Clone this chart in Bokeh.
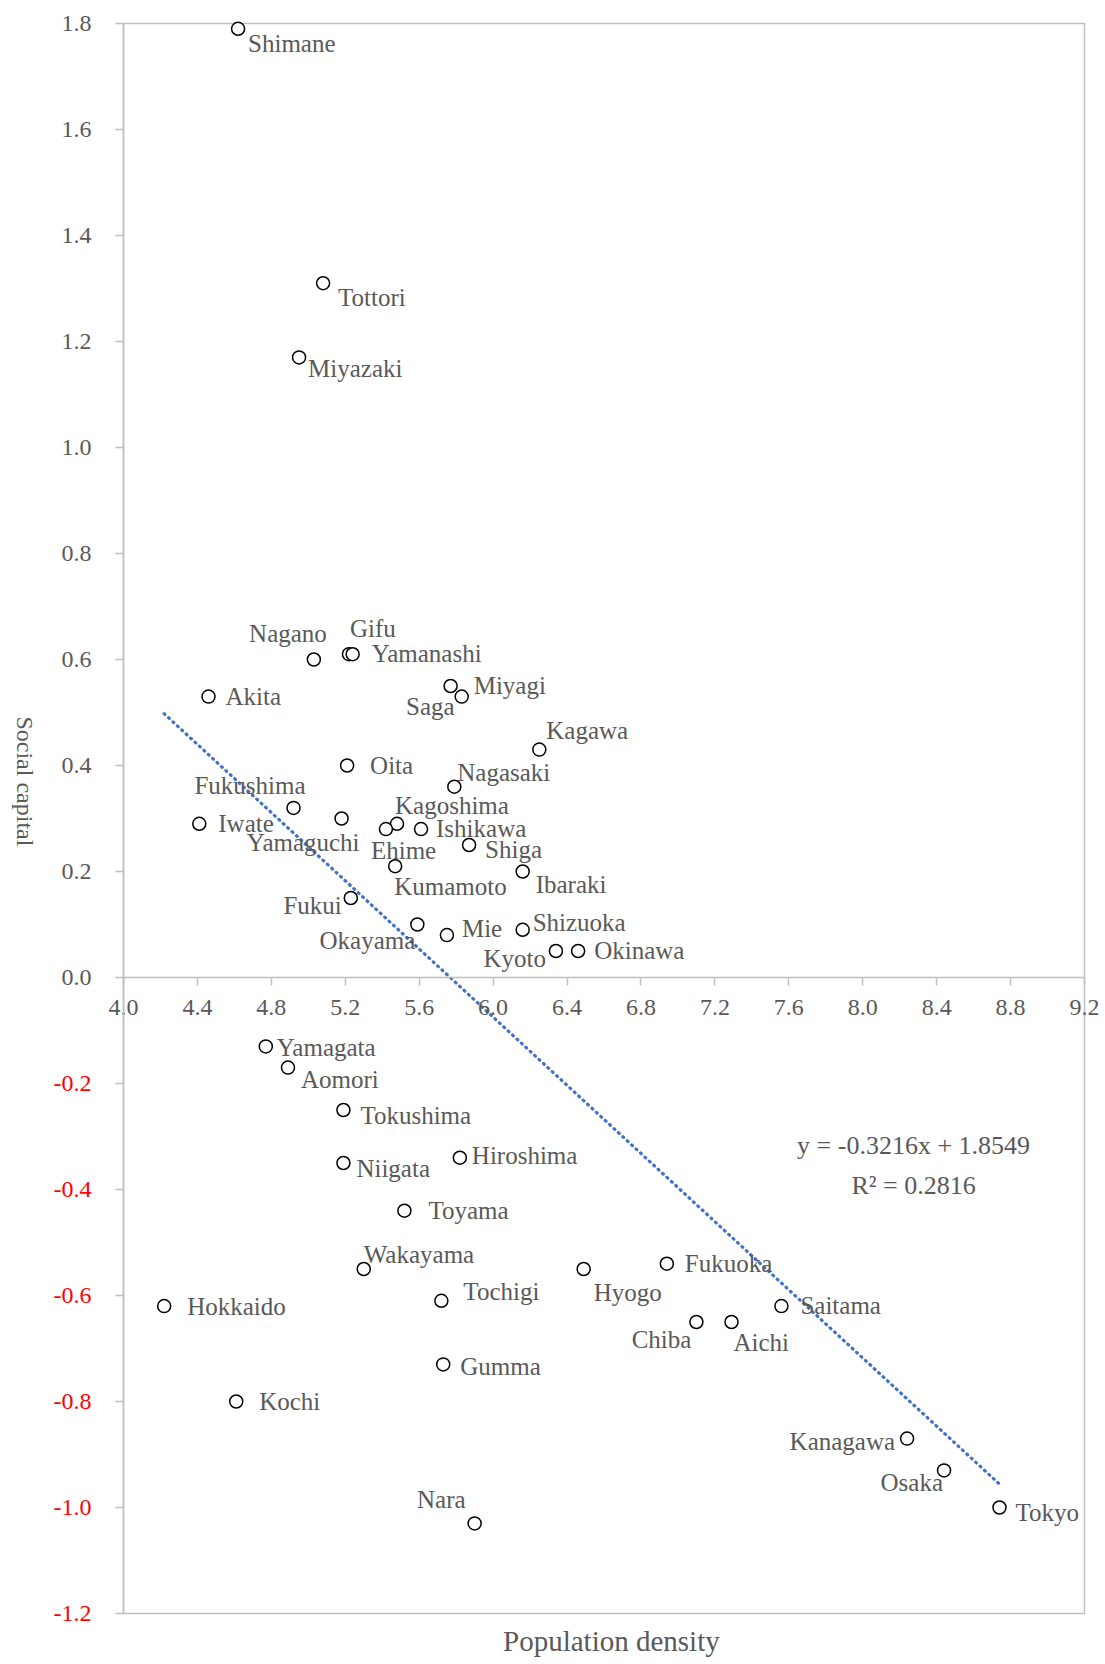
import math
from bokeh.plotting import figure
from bokeh.models import (ColumnDataSource, LabelSet, Label, FixedTicker,
                          CustomJSTickFormatter, LinearAxis)
from bokeh.core.properties import value
from bokeh.embed import file_html
from bokeh.resources import INLINE

# ---------------- data ----------------
prefectures = ["Shimane", "Tottori", "Miyazaki", "Nagano", "Gifu", "Yamanashi",
               "Akita", "Saga", "Miyagi", "Kagawa", "Oita", "Nagasaki",
               "Fukushima", "Yamaguchi", "Iwate", "Kagoshima", "Ehime", "Ishikawa",
               "Shiga", "Kumamoto", "Ibaraki", "Fukui", "Okayama", "Mie",
               "Shizuoka", "Kyoto", "Okinawa", "Yamagata", "Aomori", "Tokushima",
               "Niigata", "Hiroshima", "Toyama", "Wakayama", "Hyogo", "Fukuoka",
               "Tochigi", "Hokkaido", "Saitama", "Chiba", "Aichi", "Gumma",
               "Kochi", "Kanagawa", "Osaka", "Tokyo", "Nara"]
density = [4.62, 5.08, 4.95, 5.03, 5.22, 5.24,
           4.46, 5.77, 5.83, 6.25, 5.21, 5.79,
           4.92, 5.18, 4.41, 5.48, 5.42, 5.61,
           5.87, 5.47, 6.16, 5.23, 5.59, 5.75,
           6.16, 6.34, 6.46, 4.77, 4.89, 5.19,
           5.19, 5.82, 5.52, 5.30, 6.49, 6.94,
           5.72, 4.22, 7.56, 7.10, 7.29, 5.73,
           4.61, 8.24, 8.44, 8.74, 5.90]
social_capital = [1.79, 1.31, 1.17, 0.60, 0.61, 0.61,
                  0.53, 0.55, 0.53, 0.43, 0.40, 0.36,
                  0.32, 0.30, 0.29, 0.29, 0.28, 0.28,
                  0.25, 0.21, 0.20, 0.15, 0.10, 0.08,
                  0.09, 0.05, 0.05, -0.13, -0.17, -0.25,
                  -0.35, -0.34, -0.44, -0.55, -0.55, -0.54,
                  -0.61, -0.62, -0.62, -0.65, -0.65, -0.73,
                  -0.80, -0.87, -0.93, -1.00, -1.03]

x_ticks = [4.0, 4.4, 4.8, 5.2, 5.6, 6.0, 6.4, 6.8, 7.2, 7.6, 8.0, 8.4, 8.8, 9.2]
y_ticks = [-1.2, -1.0, -0.8, -0.6, -0.4, -0.2, 0.0, 0.2, 0.4, 0.6, 0.8,
           1.0, 1.2, 1.4, 1.6, 1.8]

slope = -0.3216
intercept = 1.8549
r_squared = 0.2816

# ---------------- label layout (screen px offsets) ----------------
label_align = ["left", "left", "left", "right", "left", "left",
               "left", "right", "left", "left", "left", "left",
               "right", "right", "left", "left", "left", "left",
               "left", "left", "left", "right", "right", "left",
               "left", "right", "left", "left", "left", "left",
               "left", "left", "left", "left", "left", "left",
               "left", "left", "left", "right", "left", "left",
               "left", "right", "right", "left", "right"]
label_dx = [10, 15, 9, 13, 1, 19,
            17, 4, 12, 7, 23, 3,
            12, 18, 19, -2, -15, 15,
            16, -1, 13, -9, -2, 15,
            10, -10, 16, 11, 13, 17,
            13, 12, 24, 0, 10, 18,
            22, 23, 19, -5, 2, 17,
            23, -12, -1, 16, -9]
label_dy = [-23, -23, -20, 18, 17, -8,
            -8, -29, 3, 11, -8, 6,
            14, -32, -8, 10, -30, -8,
            -13, -29, -21, -16, -24, -2,
            -1, -16, -8, -10, -20, -14,
            -14, -6, -8, 6, -32, -8,
            1, -9, -8, -26, -29, -11,
            -8, -11, -21, -13, 15]

GRAY = "#595959"
AXIS_GRAY = "#bfbfbf"
FONT = "Liberation Serif"

# canvas and plot-box geometry (pixels)
W, H = 1100, 1664
PAD_L, PAD_R, PAD_T, PAD_B = 123, 16, 23, 51
x_lo, x_hi = x_ticks[0], x_ticks[-1]
y_lo, y_hi = y_ticks[0], y_ticks[-1]
sx = (W - PAD_L - PAD_R) / (x_hi - x_lo)
sy = (H - PAD_T - PAD_B) / (y_hi - y_lo)

p = figure(width=W, height=H,
           x_range=(x_lo - PAD_L / sx, x_hi + PAD_R / sx),
           y_range=(y_lo - PAD_B / sy, y_hi + PAD_T / sy),
           output_backend="svg", toolbar_location=None,
           min_border=0, min_border_left=0, min_border_right=0,
           min_border_top=0, min_border_bottom=0)
p.background_fill_color = "white"
p.border_fill_color = "white"
p.outline_line_color = None
p.xgrid.visible = False
p.ygrid.visible = False

# plot box
p.quad(left=[x_lo], right=[x_hi], bottom=[y_lo], top=[y_hi],
       fill_color=None, line_color=AXIS_GRAY, line_width=1.5)


def style_axis(ax, ticks, fmt_code, color, line=True):
    ax.ticker = FixedTicker(ticks=ticks)
    ax.formatter = CustomJSTickFormatter(code=fmt_code)
    ax.axis_line_color = AXIS_GRAY if line else None
    ax.axis_line_width = 1.5
    ax.major_tick_line_color = AXIS_GRAY if line else None
    ax.major_tick_line_width = 1.5
    ax.major_tick_out = 8
    ax.major_tick_in = 0
    ax.minor_tick_line_color = None
    ax.major_label_text_font = FONT
    ax.major_label_text_font_size = "24px"
    ax.major_label_text_color = color


# x axis crossing at y = 0
xa = p.xaxis[0]
xa.fixed_location = 0
xa.bounds = (x_lo, x_hi)
style_axis(xa, x_ticks, "return tick.toFixed(1);", GRAY)
xa.major_label_standoff = 14

# y axis at x = 4.0 : gray labels for >= 0
ya = p.yaxis[0]
ya.fixed_location = x_lo
ya.bounds = (y_lo, y_hi)
style_axis(ya, y_ticks, "return tick < -1e-9 ? '' : tick.toFixed(1);", GRAY)
ya.major_label_standoff = 24

# same position: red labels for negative values
yneg = LinearAxis(fixed_location=x_lo, bounds=(y_lo, y_hi))
style_axis(yneg, y_ticks, "return tick < -1e-9 ? tick.toFixed(1) : '';",
           "#ff0000", line=False)
yneg.major_label_standoff = 24
p.add_layout(yneg, "left")

# trendline
tx = [min(density), max(density)]
ty = [slope * v + intercept for v in tx]
p.line(tx, ty, line_color="#4472c4", line_width=3.2, line_dash="1 5",
       line_cap="round")

# points
src = ColumnDataSource(dict(x=density, y=social_capital, name=prefectures,
                            dx=label_dx, dy=label_dy, al=label_align))
p.scatter("x", "y", source=src, marker="circle", size=13,
          fill_color="white", line_color="black", line_width=1.5)

p.add_layout(LabelSet(x="x", y="y", text="name", source=src,
                      x_offset="dx", y_offset="dy", text_align="al",
                      text_baseline="alphabetic",
                      text_font=value(FONT), text_font_size="25px",
                      text_color=GRAY))

# equation
p.add_layout(Label(x=8.275, y=-0.317,
                   text="y = %.4fx + %.4f" % (slope, intercept),
                   text_align="center", text_baseline="middle",
                   text_font=FONT, text_font_size="26px", text_color=GRAY))
p.add_layout(Label(x=8.275, y=-0.393, text="R\u00b2 = %.4f" % r_squared,
                   text_align="center", text_baseline="middle",
                   text_font=FONT, text_font_size="26px", text_color=GRAY))

# axis titles
p.add_layout(Label(x=x_lo, y=0.37, x_offset=-99, text="Social capital",
                   angle=-math.pi / 2, text_align="center", text_baseline="middle",
                   text_font=FONT, text_font_size="24px", text_color=GRAY))
p.add_layout(Label(x=6.64, y=y_lo, y_offset=-27, text="Population density",
                   text_align="center", text_baseline="alphabetic",
                   text_font=FONT, text_font_size="29px", text_color=GRAY))

open("out.html", "w").write(file_html(p, INLINE))
